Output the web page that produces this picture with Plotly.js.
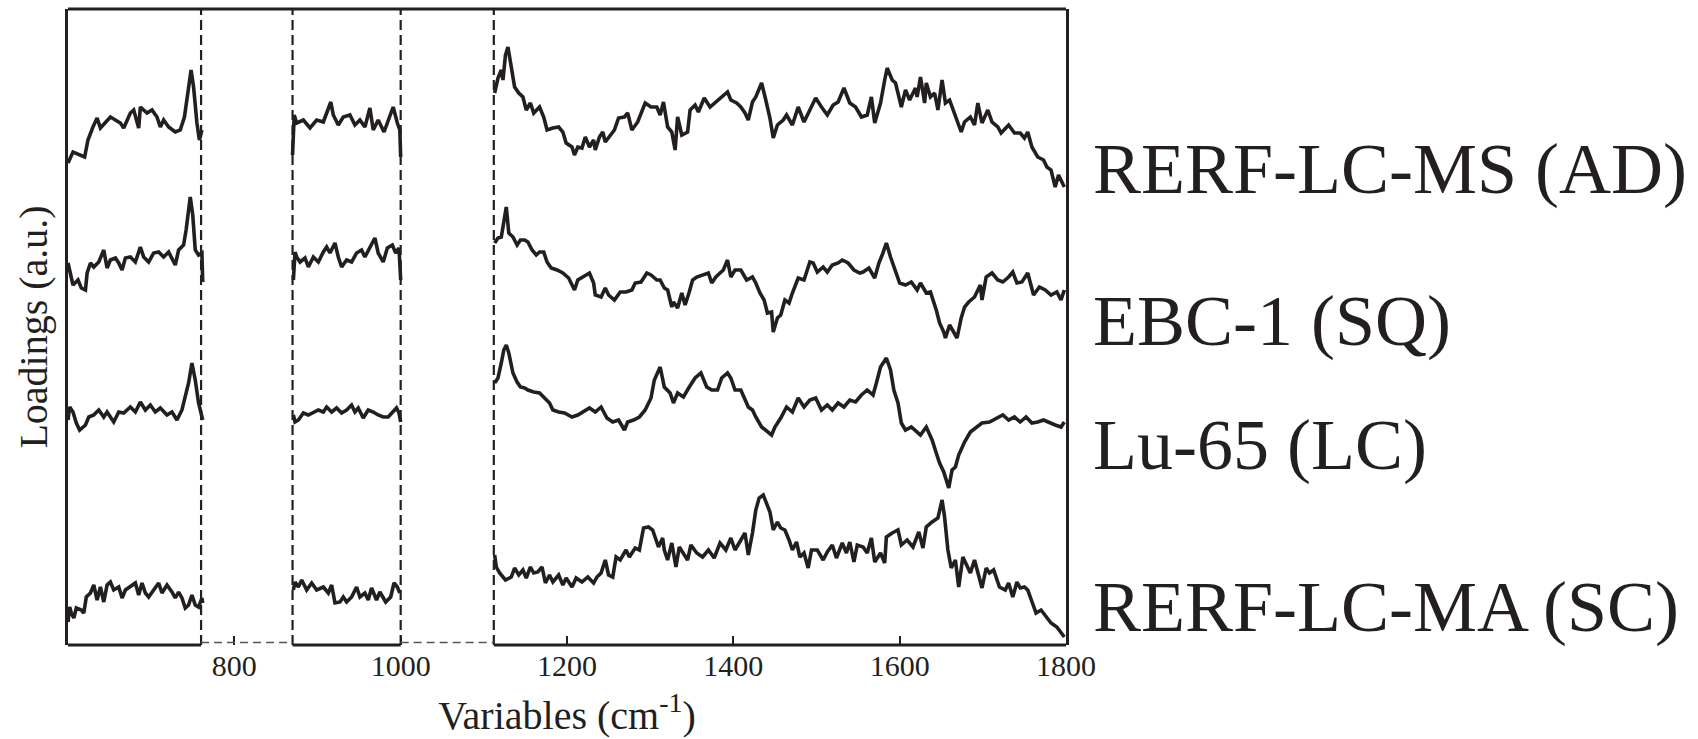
<!DOCTYPE html>
<html>
<head>
<meta charset="utf-8">
<script src="https://cdn.plot.ly/plotly-3.0.1.min.js"></script>
<style>
  html, body { margin: 0; padding: 0; background: #ffffff; }
  #chart { width: 1698px; height: 739px; }
</style>
</head>
<body>
<div id="chart"></div>
<script>
// Sample names (right-hand labels)
const sampleNames = ["RERF-LC-MS (AD)", "EBC-1 (SQ)", "Lu-65 (LC)", "RERF-LC-MA (SC)"];
// Label vertical positions (a.u., stacked scale)
const labelLevels = [476, 324, 200, 38];

// Tick labels of the wavenumber axis
const xTicks = [800, 1000, 1200, 1400, 1600, 1800];
const xRange = [600, 1800];
// Excluded spectral windows (cm-1): start and end
const gapStarts = [760, 1000];
const gapEnds = [870, 1112];

// Stacked loadings (a.u.): [wavenumber, loading]
const loadAD = [
 [600,482],[606,493],[620,488],[624,505],[630,518],[635,527],[639,517],[651,528],[663,522],[667,517],[675,532],[679,535],[685,517],[687,538],[695,532],[701,535],[707,528],[711,518],[715,525],[721,518],[729,513],[735,515],[740,528],[745,558],[748,575],[751,558],[755,522],[758,505],[761,515],
 [870,490],[872,530],[875,522],[883,525],[891,517],[899,525],[907,523],[911,532],[916,543],[919,530],[925,520],[931,528],[939,530],[945,520],[951,525],[957,518],[963,537],[967,515],[973,525],[980,513],[985,525],[991,538],[996,522],[999,515],[1000,488],
 [1113,552],[1117,567],[1121,575],[1123,565],[1126,590],[1129,598],[1133,578],[1137,558],[1142,552],[1147,548],[1151,535],[1156,542],[1160,532],[1167,538],[1172,528],[1176,515],[1183,517],[1190,518],[1195,513],[1199,502],[1206,498],[1209,490],[1213,498],[1218,497],[1222,508],[1227,498],[1232,505],[1234,495],[1239,508],[1243,513],[1246,503],[1252,510],[1257,515],[1262,527],[1269,528],[1273,532],[1278,515],[1285,523],[1289,532],[1294,542],[1301,538],[1308,538],[1312,530],[1316,543],[1321,518],[1326,513],[1330,495],[1333,528],[1338,510],[1345,513],[1348,535],[1354,540],[1358,533],[1365,547],[1372,538],[1379,543],[1386,547],[1393,553],[1397,545],[1404,542],[1409,538],[1414,532],[1418,525],[1423,543],[1427,548],[1434,562],[1439,545],[1444,527],[1448,507],[1453,520],[1460,525],[1464,530],[1471,520],[1478,538],[1485,523],[1492,535],[1499,547],[1506,538],[1513,530],[1520,540],[1526,543],[1533,557],[1540,542],[1547,538],[1554,528],[1561,530],[1566,548],[1570,522],[1577,542],[1582,565],[1585,577],[1591,565],[1595,562],[1600,545],[1602,538],[1607,555],[1612,545],[1619,557],[1621,548],[1625,568],[1630,542],[1632,562],[1637,548],[1642,552],[1646,535],[1651,565],[1655,542],[1660,545],[1667,530],[1674,513],[1678,523],[1685,528],[1690,520],[1694,542],[1699,522],[1706,535],[1711,523],[1718,518],[1722,512],[1731,520],[1738,512],[1745,512],[1750,507],[1754,513],[1759,498],[1766,488],[1773,485],[1777,478],[1782,475],[1787,458],[1791,470],[1798,458]
];
const loadSQ = [
 [600,382],[602,375],[606,360],[612,365],[616,357],[621,355],[623,372],[627,382],[631,378],[637,383],[643,395],[647,377],[651,385],[657,387],[661,382],[665,375],[669,387],[675,388],[681,383],[687,398],[691,388],[697,383],[703,392],[709,393],[715,388],[721,393],[729,380],[733,395],[739,400],[742,415],[747,448],[750,430],[753,395],[757,390],[761,392],[762,363],
 [871,365],[873,393],[875,388],[879,383],[885,387],[889,378],[895,388],[901,383],[907,393],[911,398],[915,392],[921,402],[925,388],[929,378],[935,385],[941,383],[947,392],[953,395],[957,388],[963,398],[969,407],[973,392],[979,383],[984,397],[990,400],[994,392],[998,397],[1000,365],
 [1113,402],[1117,407],[1121,408],[1124,425],[1127,438],[1130,412],[1135,408],[1140,400],[1144,405],[1149,405],[1153,403],[1158,395],[1163,390],[1167,393],[1172,393],[1176,383],[1181,377],[1188,375],[1195,372],[1202,367],[1209,355],[1213,365],[1220,368],[1227,372],[1232,362],[1234,350],[1241,348],[1246,357],[1250,350],[1257,345],[1264,353],[1271,353],[1278,355],[1282,362],[1289,363],[1296,372],[1301,370],[1308,365],[1312,365],[1317,357],[1321,355],[1326,338],[1328,343],[1333,337],[1338,352],[1342,340],[1347,353],[1351,365],[1356,368],[1363,370],[1370,372],[1374,362],[1379,368],[1384,372],[1388,375],[1393,385],[1397,368],[1402,375],[1409,375],[1416,365],[1423,368],[1427,362],[1432,352],[1437,345],[1441,332],[1446,333],[1448,313],[1453,327],[1457,330],[1462,345],[1467,342],[1471,352],[1478,367],[1485,365],[1492,383],[1496,382],[1501,373],[1508,378],[1513,373],[1519,380],[1526,382],[1531,385],[1538,382],[1545,375],[1552,372],[1556,373],[1563,377],[1570,367],[1575,382],[1579,390],[1584,402],[1589,388],[1593,378],[1600,362],[1607,360],[1614,363],[1621,355],[1625,362],[1632,352],[1637,353],[1644,335],[1648,322],[1653,313],[1655,307],[1660,320],[1665,312],[1669,307],[1674,327],[1678,338],[1683,343],[1690,348],[1697,360],[1699,345],[1704,368],[1711,372],[1718,365],[1724,363],[1731,368],[1736,373],[1741,362],[1747,363],[1754,372],[1761,350],[1768,358],[1775,355],[1782,350],[1789,353],[1794,345],[1798,355]
];
const loadLC = [
 [600,225],[602,238],[606,233],[610,222],[614,215],[621,220],[625,228],[631,230],[637,235],[643,228],[647,233],[655,223],[661,233],[667,232],[675,238],[681,233],[687,243],[693,235],[699,240],[705,233],[711,237],[719,230],[725,233],[731,225],[737,235],[741,248],[745,262],[749,282],[753,265],[757,242],[760,233],[762,225],
 [871,230],[873,223],[877,225],[883,232],[889,230],[895,233],[901,235],[907,233],[911,238],[917,233],[923,237],[929,232],[935,235],[941,240],[945,233],[949,237],[955,227],[961,235],[967,233],[973,230],[979,228],[985,228],[991,233],[995,237],[998,232],[1000,223],
 [1113,262],[1117,267],[1121,282],[1124,295],[1127,300],[1130,292],[1135,272],[1140,263],[1144,258],[1149,257],[1153,255],[1160,253],[1167,252],[1172,248],[1179,242],[1183,235],[1190,233],[1197,232],[1206,228],[1213,230],[1220,233],[1227,237],[1234,233],[1241,238],[1248,227],[1255,223],[1262,225],[1269,215],[1273,223],[1280,225],[1287,228],[1294,235],[1301,247],[1305,265],[1312,278],[1317,258],[1324,252],[1328,242],[1333,252],[1340,248],[1347,258],[1354,267],[1361,272],[1368,258],[1374,255],[1381,255],[1386,267],[1393,272],[1397,267],[1402,255],[1409,255],[1414,245],[1418,238],[1423,235],[1427,228],[1434,218],[1439,215],[1446,210],[1450,218],[1457,227],[1464,238],[1471,233],[1478,247],[1485,238],[1492,245],[1499,247],[1506,235],[1513,240],[1519,235],[1526,242],[1533,238],[1540,245],[1547,243],[1554,250],[1561,255],[1568,250],[1572,262],[1577,278],[1584,287],[1589,275],[1593,255],[1598,242],[1602,222],[1607,215],[1614,218],[1621,213],[1625,210],[1632,218],[1639,205],[1644,192],[1648,182],[1653,173],[1659,157],[1663,175],[1667,178],[1671,190],[1678,203],[1685,213],[1692,218],[1699,222],[1708,223],[1718,227],[1724,230],[1731,225],[1738,228],[1745,223],[1752,228],[1759,222],[1766,223],[1773,225],[1780,222],[1787,220],[1794,218],[1798,223]
];
const loadSC = [
 [600,23],[602,38],[604,32],[607,27],[610,37],[616,35],[619,32],[622,48],[627,52],[631,60],[635,45],[639,58],[643,43],[647,60],[651,63],[655,55],[661,58],[665,47],[669,55],[675,58],[681,62],[685,50],[689,62],[693,52],[697,48],[703,55],[709,62],[713,52],[719,60],[725,53],[729,47],[733,53],[737,47],[741,37],[745,40],[749,50],[753,40],[757,38],[761,47],[762,42],
 [871,55],[873,63],[877,58],[881,65],[887,55],[893,62],[899,55],[907,58],[913,52],[917,60],[921,42],[927,43],[931,48],[935,43],[941,48],[947,58],[951,48],[957,52],[961,45],[965,57],[971,45],[975,53],[982,43],[988,48],[992,62],[996,58],[999,52],
 [1113,90],[1115,78],[1119,72],[1126,65],[1133,68],[1137,77],[1142,70],[1147,75],[1151,67],[1156,78],[1160,72],[1165,73],[1170,78],[1174,62],[1179,70],[1183,63],[1190,70],[1195,60],[1199,67],[1206,58],[1211,67],[1218,63],[1225,68],[1232,62],[1236,68],[1241,72],[1246,85],[1250,70],[1255,68],[1259,88],[1264,85],[1271,95],[1275,88],[1282,97],[1287,95],[1292,117],[1298,118],[1303,115],[1310,98],[1315,107],[1317,95],[1321,85],[1326,102],[1331,78],[1335,98],[1340,92],[1345,85],[1349,100],[1356,92],[1363,88],[1370,95],[1377,87],[1384,102],[1391,95],[1397,107],[1402,95],[1409,105],[1414,112],[1418,90],[1423,112],[1427,135],[1431,147],[1436,150],[1440,142],[1444,133],[1448,115],[1453,123],[1457,117],[1462,115],[1467,105],[1471,95],[1476,103],[1480,88],[1485,92],[1490,77],[1494,95],[1501,95],[1508,85],[1513,93],[1519,100],[1524,87],[1531,102],[1536,92],[1540,103],[1545,83],[1549,100],[1556,98],[1561,92],[1566,107],[1570,83],[1577,92],[1582,82],[1584,108],[1591,112],[1598,115],[1602,100],[1609,105],[1616,98],[1623,113],[1628,97],[1632,118],[1639,123],[1646,127],[1651,145],[1654,128],[1658,95],[1662,77],[1667,85],[1671,58],[1676,88],[1681,80],[1685,72],[1690,85],[1694,73],[1699,57],[1704,77],[1708,72],[1713,75],[1720,58],[1727,55],[1731,62],[1736,48],[1741,63],[1745,57],[1750,58],[1754,55],[1759,43],[1764,32],[1770,35],[1777,27],[1782,22],[1789,18],[1793,13],[1798,8]
];

const seriesData = [loadAD, loadSQ, loadLC, loadSC];
const yRange = [0, 636];

const ink = "#231f20";
const serif = "Liberation Serif, Times New Roman, serif";

// Build traces; break the line across the excluded windows
function splitGaps(pts) {
  const xs = [], ys = [];
  for (let i = 0; i < pts.length; i++) {
    if (i > 0 && pts[i][0] - pts[i-1][0] > 50) { xs.push(null); ys.push(null); }
    xs.push(pts[i][0]); ys.push(pts[i][1]);
  }
  return {xs, ys};
}

const traces = seriesData.map((pts, i) => {
  const s = splitGaps(pts);
  return {
    type: "scatter", mode: "lines", name: sampleNames[i],
    x: s.xs, y: s.ys, connectgaps: false,
    line: {color: ink, width: 3.6, shape: "linear"}, hoverinfo: "skip", showlegend: false
  };
});

const shapes = [];
// dashed vertical lines at the window boundaries
gapStarts.concat(gapEnds).forEach(v => {
  shapes.push({type: "line", xref: "x", yref: "paper", x0: v, x1: v, y0: 0, y1: 1,
    line: {color: ink, width: 2.2, dash: "10px,5px"}, layer: "above"});
});
// bottom frame: solid where data exist, thin dashed inside the excluded windows
const solidStarts = [xRange[0]].concat(gapEnds);
const solidEnds = gapStarts.concat([xRange[1]]);
solidStarts.forEach((s, i) => {
  shapes.push({type: "line", xref: "x", yref: "paper", x0: s, x1: solidEnds[i], y0: 0, y1: 0,
    line: {color: ink, width: 3.2}, layer: "above"});
});
gapStarts.forEach((s, i) => {
  shapes.push({type: "line", xref: "x", yref: "paper", x0: s, x1: gapEnds[i], y0: 0.004, y1: 0.004,
    line: {color: "#555555", width: 1.5, dash: "8px,5px"}, layer: "above"});
});
// top frame
shapes.push({type: "line", xref: "paper", yref: "paper", x0: 0, x1: 1, y0: 1, y1: 1,
  line: {color: ink, width: 3.2}, layer: "above"});

const annotations = sampleNames.map((n, i) => ({
  text: n, xref: "paper", yref: "y", x: 1.025, y: labelLevels[i],
  xanchor: "left", yanchor: "middle", showarrow: false,
  font: {family: serif, size: 72, color: ink}
}));

const layout = {
  width: 1698, height: 739,
  margin: {l: 68, r: 632, t: 9, b: 94},
  paper_bgcolor: "#ffffff", plot_bgcolor: "#ffffff",
  showlegend: false,
  font: {family: serif, color: ink},
  xaxis: {
    range: xRange, showline: false, zeroline: false, showgrid: false,
    tickmode: "array", tickvals: xTicks, ticktext: xTicks.map(String),
    ticks: "inside", ticklen: 9, tickwidth: 2.2, tickcolor: ink,
    tickfont: {family: serif, size: 30, color: ink},
    title: {text: "Variables (cm<sup>-1</sup>)", font: {family: serif, size: 40, color: ink}, standoff: 19}
  },
  yaxis: {
    range: yRange, showline: true, mirror: true, linewidth: 3.2, linecolor: ink,
    zeroline: false, showgrid: false, ticks: "", showticklabels: false,
    title: {text: "Loadings (a.u.)", font: {family: serif, size: 40, color: ink}, standoff: 5}
  },
  shapes: shapes,
  annotations: annotations
};

Plotly.newPlot("chart", traces, layout, {staticPlot: true, displayModeBar: false});
</script>
</body>
</html>
